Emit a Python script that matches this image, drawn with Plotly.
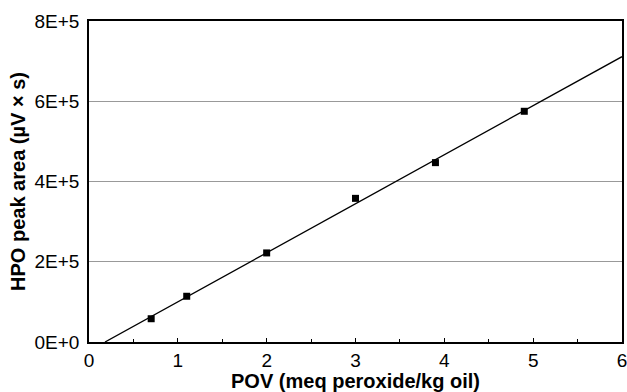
import numpy as np
import plotly.graph_objects as go

pov = [0.7, 1.1, 2.0, 3.0, 3.9, 4.9]
hpo_area = [58000, 114000, 222000, 358000, 447000, 575000]

x_ticks = [0, 1, 2, 3, 4, 5, 6]
y_ticks = [0, 200000, 400000, 600000, 800000]
y_tick_labels = ["0E+0", "2E+5", "4E+5", "6E+5", "8E+5"]

# least-squares calibration line
slope, intercept = np.polyfit(pov, hpo_area, 1)
x_start = -intercept / slope
x_line = [x_start, 6.0]
y_line = [slope * xv + intercept for xv in x_line]

fig = go.Figure()
fig.add_trace(go.Scatter(x=x_line, y=y_line, mode="lines",
                         line=dict(color="black", width=1.3),
                         showlegend=False, hoverinfo="skip"))
fig.add_trace(go.Scatter(x=pov, y=hpo_area, mode="markers",
                         marker=dict(symbol="square", size=7, color="black"),
                         showlegend=False))

font_family = "Liberation Sans, Arial, sans-serif"
fig.update_layout(
    width=627, height=392,
    margin=dict(l=89, r=5, t=21, b=50),
    paper_bgcolor="white", plot_bgcolor="white",
    font=dict(family=font_family, size=18, color="black"),
)
fig.update_xaxes(
    range=[0, 6], tickvals=x_ticks, ticks="inside", ticklen=4,
    tickcolor="black", tickwidth=1, automargin=False, ticklabeloverflow="allow",
    minor=dict(dtick=0.5, ticks="inside", ticklen=3, tickcolor="black", showgrid=False),
    showgrid=False, zeroline=False,
    showline=True, linecolor="black", linewidth=1.5, mirror=True,
    tickfont=dict(size=19),
    title=dict(text="POV (meq peroxide/kg oil)", standoff=0,
               font=dict(size=20, weight="bold")),
)
fig.update_yaxes(
    range=[0, 800000], tickvals=y_ticks, ticktext=y_tick_labels,
    ticks="", showgrid=True, gridcolor="#999999", gridwidth=1, automargin=False,
    ticklabeloverflow="allow",
    zeroline=False, showline=True, linecolor="black", linewidth=1.5, mirror=True,
    tickfont=dict(size=19), ticklabelstandoff=4,
    title=dict(text="HPO peak area (µV × s)", standoff=4,
               font=dict(size=20, weight="bold")),
)

fig.write_html("out.html")
